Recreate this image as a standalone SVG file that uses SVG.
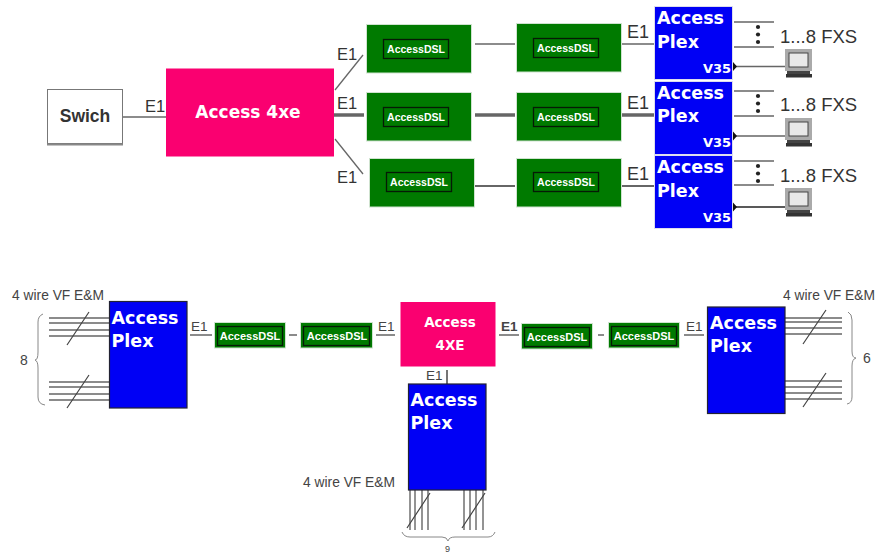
<svg xmlns="http://www.w3.org/2000/svg" xmlns:xlink="http://www.w3.org/1999/xlink" width="876" height="555" viewBox="0 0 876 555">
<style>
text{font-family:"Liberation Sans",Arial,sans-serif}
.lbl{font-size:16.500px;fill:#333}
.fxs{font-size:18.500px;fill:#333}
.sm{font-size:14px;fill:#444}
.wire4{font-size:13.800px;fill:#444}
.e{font-size:13.500px;fill:#444}
.plex{fill:#0000f5;stroke:#dde;stroke-width:1}
.plexb{fill:#0000f5;stroke:#223;stroke-width:1.2}
.pt{font-family:"DejaVu Sans",sans-serif;font-weight:bold;font-size:17.500px;fill:#fff}
.v{font-family:"DejaVu Sans",sans-serif;font-weight:bold;font-size:13px;fill:#fff}
.g{fill:#007a00;stroke:#cfe3cf;stroke-width:1}
.gi{fill:#007a00;stroke:#061a06;stroke-width:1.3}
.gt{font-size:10.500px;font-weight:bold;fill:#fff;text-anchor:middle}
.gs{font-size:11px;font-weight:bold;fill:#fff;text-anchor:middle}
.pk{fill:#fa0070}
.pkt{font-family:"DejaVu Sans",sans-serif;font-weight:bold;fill:#fff;text-anchor:middle}
.c{stroke:#666;stroke-width:1.3;fill:none}
.t{stroke:#666;stroke-width:3.500;fill:none}
.w{stroke:#666;stroke-width:1.400;fill:none}
.s{stroke:#444;stroke-width:1.200;fill:none}
.b{stroke:#888;stroke-width:1;fill:none}
</style>
<defs>
<g id="pc">
<rect x="0" y="0" width="27" height="22" fill="#aaa"/>
<rect x="4" y="4" width="19" height="14" fill="#e8e8e8" stroke="#444" stroke-width="1"/>
<rect x="2" y="22" width="23" height="3" fill="#444"/>
<rect x="1" y="25" width="26" height="3.500" fill="#333"/>
</g>
<g id="dots"><circle cx="0" cy="0" r="2.100" fill="#222"/><circle cx="0" cy="7.500" r="2.100" fill="#222"/><circle cx="0" cy="15" r="2.100" fill="#222"/></g>
</defs>
<rect width="876" height="555" fill="#fff"/>
<g id="connectors">
<path class="c" d="M123 117H166"/>
<path class="c" d="M335 90L363 55"/>
<path class="t" d="M334 115H364"/>
<path class="c" d="M335 139L363 174"/>
<path class="c" d="M475 44H515"/>
<path class="t" d="M475 115H515"/>
<path class="c" d="M475 186H515" style="stroke-width:2"/>
<path class="c" d="M621 44H654"/>
<path class="t" d="M621 115H654"/>
<path class="c" d="M621 186H654" style="stroke-width:2"/>
<path class="c" d="M734 22H774M734 47H774"/>
<path class="c" d="M734 91H774M734 116H774"/>
<path class="c" d="M734 161H774M734 185H774"/>
<path class="c" d="M734 66.500H786M734 136H786"/>
<path d="M734 207H786" stroke="#222" stroke-width="1.400" fill="none"/>
<path d="M733 62v9l4-4.500zM733 131.500v9l4-4.500zM733 202.500v9l4-4.500z" fill="#111"/>
<path class="c" d="M190 335H212M289 335H297M376 335H395M499 335H519M598 335H604M684 335H704"/>
<path class="c" d="M447 370V384" style="stroke-width:1.800"/>
</g>
<g id="wires-left">
<path class="w" d="M49 318H109M49 323H109M49 330H109M49 336H109M49 382H109M49 387H109M49 394H109M49 400H109"/>
<path class="s" d="M67 345L89 312M67 408L89 375"/>
<path class="b" d="M43 314Q38 316 38 322V352Q38 360 35 360Q38 361 38 368V397Q38 404 45 405"/>
</g>
<g id="wires-right">
<path class="w" d="M785 318H842M785 322H842M785 328H842M785 334H842M785 381H842M785 387H842M785 393H842M785 399H842"/>
<path class="s" d="M803 344L826 310M803 407L826 373"/>
<path class="b" d="M848 312Q852 314 852 320V351Q852 358 856 358Q852 359 852 366V397Q852 403 847 404"/>
</g>
<g id="wires-center">
<path class="w" d="M410 490V530M415 490V530M422 490V530M428 490V530M464 490V530M470 490V530M476 490V530M483 490V530"/>
<path class="s" d="M407 528L430 493M462 528L485 493"/>
<path class="b" d="M402 532Q404 537 410 537H442Q447 537 448 541Q449 537 455 537H488Q493 537 495 532"/>
</g>
<g id="switch">
<rect x="47.500" y="89.500" width="75" height="54" fill="#fff" stroke="#777"/>
<path d="M47 144.500H123" stroke="#888" stroke-width="2" fill="none"/>
<text x="85" y="122" text-anchor="middle" font-size="17.500" font-weight="bold" fill="#333">Swich</text>
</g>
<text class="lbl" x="145" y="112">E1</text>
<g id="access4xe">
<rect class="pk" x="166" y="68.500" width="168" height="88"/>
<text class="pkt" x="248" y="118" font-size="17">Access 4xe</text>
</g>
<text class="lbl" x="337" y="60">E1</text>
<text class="lbl" x="337" y="109">E1</text>
<text class="lbl" x="337" y="183">E1</text>
<g id="dsl-1a"><rect class="g" x="366.500" y="24.500" width="105" height="48.500"/><rect class="gi" x="383.500" y="39.500" width="65" height="19"/><text class="gt" x="416" y="52.500">AccessDSL</text></g>
<g id="dsl-1b"><rect class="g" x="516.500" y="23.500" width="105" height="48.500"/><rect class="gi" x="533.500" y="38.500" width="65" height="19"/><text class="gt" x="566" y="51.500">AccessDSL</text></g>
<g id="dsl-2a"><rect class="g" x="366.500" y="92.500" width="105" height="48.500"/><rect class="gi" x="383.500" y="107.500" width="65" height="19"/><text class="gt" x="416" y="120.500">AccessDSL</text></g>
<g id="dsl-2b"><rect class="g" x="516.500" y="92.500" width="105" height="48.500"/><rect class="gi" x="533.500" y="107.500" width="65" height="19"/><text class="gt" x="566" y="120.500">AccessDSL</text></g>
<g id="dsl-3a"><rect class="g" x="369.500" y="158.500" width="105" height="48.500"/><rect class="gi" x="386.500" y="172.500" width="65" height="19"/><text class="gt" x="419" y="185.500">AccessDSL</text></g>
<g id="dsl-3b"><rect class="g" x="516.500" y="158.500" width="105" height="48.500"/><rect class="gi" x="533.500" y="172.500" width="65" height="19"/><text class="gt" x="566" y="185.500">AccessDSL</text></g>
<text class="lbl" x="627" y="38" style="font-size:18px">E1</text>
<text class="lbl" x="627" y="109" style="font-size:18px">E1</text>
<text class="lbl" x="627" y="180" style="font-size:18px">E1</text>
<g id="plex-1"><rect class="plex" x="654.500" y="6.500" width="78" height="73"/><text class="pt" x="657" y="24">Access</text><text class="pt" x="657" y="48">Plex</text><text class="v" x="703" y="73">V35</text></g>
<g id="plex-2"><rect class="plex" x="654.500" y="81.500" width="78" height="73"/><text class="pt" x="657" y="99">Access</text><text class="pt" x="657" y="122">Plex</text><text class="v" x="703" y="147">V35</text></g>
<g id="plex-3"><rect class="plex" x="654.500" y="155.500" width="78" height="73"/><text class="pt" x="657" y="173">Access</text><text class="pt" x="657" y="197">Plex</text><text class="v" x="703" y="222">V35</text></g>
<use xlink:href="#dots" href="#dots" x="758" y="27"/>
<use xlink:href="#dots" href="#dots" x="758" y="96"/>
<use xlink:href="#dots" href="#dots" x="758" y="166"/>
<text class="fxs" x="780" y="43">1...8 FXS</text>
<text class="fxs" x="780" y="111">1...8 FXS</text>
<text class="fxs" x="780" y="182">1...8 FXS</text>
<g id="pc-1"><use xlink:href="#pc" href="#pc" x="785" y="49"/></g>
<g id="pc-2"><use xlink:href="#pc" href="#pc" x="785" y="118"/></g>
<g id="pc-3"><use xlink:href="#pc" href="#pc" x="785" y="188"/></g>
<text class="wire4" x="12" y="300">4 wire VF E&amp;M</text>
<text class="sm" x="20" y="365">8</text>
<g id="plex-left"><rect class="plexb" x="109.500" y="301.500" width="77.500" height="106.500"/><text class="pt" x="111.500" y="324">Access</text><text class="pt" x="111.500" y="347">Plex</text></g>
<text class="e" x="191" y="331">E1</text>
<g id="dsl-b1"><rect class="g" x="214.500" y="322.500" width="71" height="25.500"/><rect class="gi" x="217.500" y="326.500" width="65" height="19"/><text class="gs" x="250" y="339.500">AccessDSL</text></g>
<g id="dsl-b2"><rect class="g" x="300.500" y="322.500" width="72" height="25.500"/><rect class="gi" x="303.500" y="326.500" width="66" height="19"/><text class="gs" x="337" y="339.500">AccessDSL</text></g>
<text class="e" x="378" y="331">E1</text>
<g id="access-4xe-b"><rect class="pk" x="400.500" y="302" width="95" height="64.500"/><text class="pkt" x="450" y="327" font-size="13.500">Access</text><text class="pkt" x="450" y="350" font-size="13.500">4XE</text></g>
<text class="e" x="501" y="331" font-weight="bold">E1</text>
<g id="dsl-b3"><rect class="g" x="521.500" y="323.500" width="71" height="25.500"/><rect class="gi" x="524.500" y="327.500" width="65" height="19"/><text class="gs" x="557" y="340.500">AccessDSL</text></g>
<g id="dsl-b4"><rect class="g" x="608.500" y="322.500" width="71" height="25.500"/><rect class="gi" x="611.500" y="326.500" width="65" height="19"/><text class="gs" x="644" y="339.500">AccessDSL</text></g>
<text class="e" x="686" y="331">E1</text>
<g id="plex-right"><rect class="plexb" x="707.500" y="307" width="77.500" height="106.500"/><text class="pt" x="710" y="329">Access</text><text class="pt" x="710" y="352">Plex</text></g>
<text class="wire4" x="783" y="300">4 wire VF E&amp;M</text>
<text class="sm" x="863" y="363">6</text>
<text class="e" x="426" y="380">E1</text>
<g id="plex-center"><rect class="plexb" x="408.500" y="384" width="77.500" height="106"/><text class="pt" x="410.500" y="406">Access</text><text class="pt" x="410.500" y="429">Plex</text></g>
<text class="wire4" x="303" y="487">4 wire VF E&amp;M</text>
<text x="445" y="552" style="font-size:9px;fill:#444">9</text>
</svg>
